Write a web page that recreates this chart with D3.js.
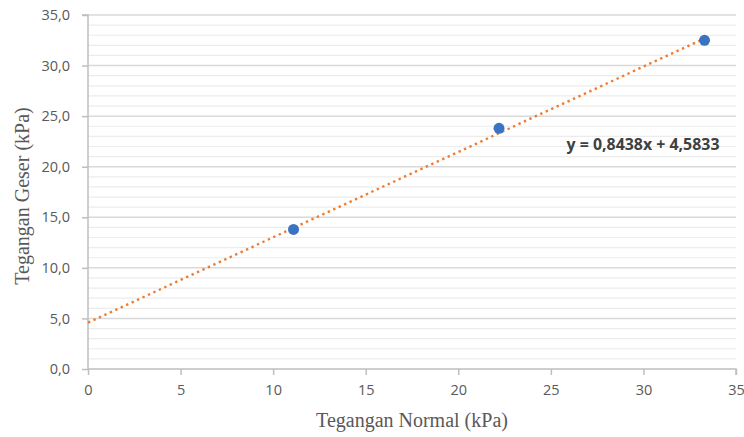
<!DOCTYPE html>
<html><head><meta charset="utf-8">
<script src="https://cdn.jsdelivr.net/npm/d3@7"></script>
<style>body{margin:0;background:#fff}svg{display:block}</style>
</head><body>
<script>
const normalStress = [11.1, 22.2, 33.3];
const shearStress = [13.8, 23.8, 32.5];
const trendSlope = 0.8438;
const trendIntercept = 4.5833;
const trendRange = [0, 33.3];
const xTicks = [0, 5, 10, 15, 20, 25, 30, 35];
const yTicks = [0, 5, 10, 15, 20, 25, 30, 35];
const yMinorTicks = d3.range(0, 36, 1);
const equationLabel = "y = 0,8438x + 4,5833";
const xTitle = "Tegangan Normal (kPa)";
const yTitle = "Tegangan Geser (kPa)";

const W = 744, H = 437;
const svg = d3.select("body").append("svg").attr("width", W).attr("height", H);
const x = d3.scaleLinear().domain([0, 35]).range([88, 736]);
const y = d3.scaleLinear().domain([0, 35]).range([369, 15]);

// minor gridlines
svg.append("g").selectAll("line").data(yMinorTicks.filter(v => v % 5 !== 0)).join("line")
  .attr("x1", x(0)).attr("x2", x(35)).attr("y1", d => y(d)).attr("y2", d => y(d))
  .attr("stroke", "#ececec").attr("stroke-width", 1.2);
// major gridlines
svg.append("g").selectAll("line").data(yTicks.filter(v => v > 0)).join("line")
  .attr("x1", x(0)).attr("x2", x(35)).attr("y1", d => y(d)).attr("y2", d => y(d))
  .attr("stroke", "#d9d9d9").attr("stroke-width", 1.5);

const fmt = d => d.toFixed(1).replace(".", ",");
const yAxis = svg.append("g").attr("transform", `translate(${x(0)},0)`)
  .call(d3.axisLeft(y).tickValues(yTicks).tickFormat(fmt).tickSize(6).tickPadding(12));
const xAxis = svg.append("g").attr("transform", `translate(0,${y(0)})`)
  .call(d3.axisBottom(x).tickValues(xTicks).tickFormat(d3.format("d")).tickSize(6).tickPadding(10));
[yAxis, xAxis].forEach(g => {
  g.select(".domain").attr("stroke", "#bfbfbf").attr("stroke-width", 1.5);
  g.selectAll(".tick line").attr("stroke", "#bfbfbf").attr("stroke-width", 1.5);
  g.selectAll("text").attr("fill", "#595959").style("font-family", "'Open Sans', 'Liberation Sans', sans-serif").style("font-size", "14.5px");
});
yAxis.select(".domain").attr("d", `M-6,${y(35)}H0V${y(0)}`);
xAxis.select(".domain").attr("d", `M${x(0)},0H${x(35)}V6`);

// trendline
const line = d3.line().x(d => x(d)).y(d => y(trendSlope * d + trendIntercept));
svg.append("path").datum(trendRange).attr("d", line)
  .attr("fill", "none").attr("stroke", "#ED7D31").attr("stroke-width", 2.4)
  .attr("stroke-dasharray", "2.4 3.6").attr("stroke-linecap", "butt");

// points
svg.append("g").selectAll("circle").data(normalStress.map((v, i) => [v, shearStress[i]])).join("circle")
  .attr("cx", d => x(d[0])).attr("cy", d => y(d[1])).attr("r", 5.5).attr("fill", "#3A73C2");

svg.append("text").attr("x", 643).attr("y", 150).attr("text-anchor", "middle")
  .attr("fill", "#404040").style("font-family", "'Open Sans', 'Liberation Sans', sans-serif")
  .style("font-size", "15.5px").style("font-weight", "bold").attr("textLength", 153).attr("lengthAdjust", "spacingAndGlyphs").text(equationLabel);

svg.append("text").attr("x", 412).attr("y", 427).attr("text-anchor", "middle")
  .attr("fill", "#595959").style("font-family", "'Liberation Serif', serif").style("font-size", "20px").text(xTitle);
svg.append("text").attr("transform", "translate(29,196) rotate(-90)").attr("text-anchor", "middle")
  .attr("fill", "#595959").style("font-family", "'Liberation Serif', serif").style("font-size", "20px").text(yTitle);
</script>
</body></html>
